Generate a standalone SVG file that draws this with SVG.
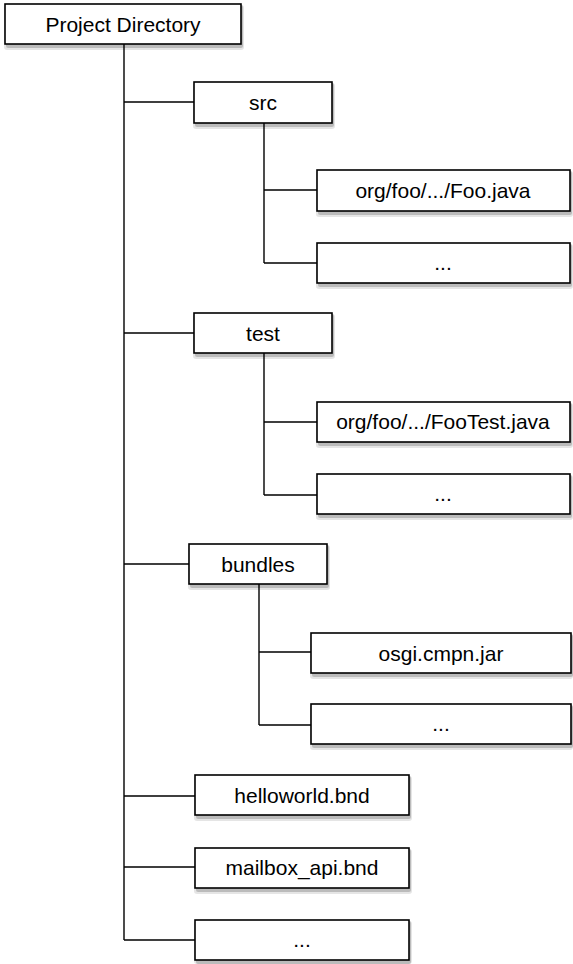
<svg xmlns="http://www.w3.org/2000/svg" width="573" height="964" viewBox="0 0 573 964">
<defs>
<style>
.box{fill:#fff;stroke:#000;stroke-width:1.6}
.s1{fill:#000;opacity:0.10}
.s2{fill:#000;opacity:0.18}
.lbl{font-family:"Liberation Sans",Arial,sans-serif;font-size:21px;fill:#000;text-anchor:middle}
.con{fill:none;stroke:#000;stroke-width:1.4}
</style>
</defs>
<rect width="573" height="964" fill="#fff"/>
<g id="connectors">
<path class="con" d="M124,44 V940 M124,102 H194 M124,333 H194 M124,564 H189 M124,796 H195 M124,867 H195 M124,940 H195"/>
<path class="con" d="M264,123 V263 M264,190 H317 M264,263 H317"/>
<path class="con" d="M264,353 V495 M264,422 H317 M264,495 H317"/>
<path class="con" d="M259,584 V725 M259,652 H311 M259,725 H311"/>
</g>
<g id="root"><rect class="s1" x="4" y="5" width="240" height="45" rx="3"/><rect class="s2" x="6" y="5" width="237" height="43" rx="2"/><rect class="box" x="5" y="4" width="236" height="40"/><text class="lbl" x="123" y="31.5">Project Directory</text></g>
<g id="src"><rect class="s1" x="193" y="83" width="142" height="46" rx="3"/><rect class="s2" x="195" y="83" width="139" height="44" rx="2"/><rect class="box" x="194" y="82" width="138" height="41"/><text class="lbl" x="263" y="110">src</text></g>
<g id="foo"><rect class="s1" x="316" y="171" width="257" height="46" rx="3"/><rect class="s2" x="318" y="171" width="254" height="44" rx="2"/><rect class="box" x="317" y="170" width="253" height="41"/><text class="lbl" x="443" y="198">org/foo/.../Foo.java</text></g>
<g id="src-more"><rect class="s1" x="316" y="244" width="257" height="45" rx="3"/><rect class="s2" x="318" y="244" width="254" height="43" rx="2"/><rect class="box" x="317" y="243" width="253" height="40"/><text class="lbl" x="443" y="270">...</text></g>
<g id="test"><rect class="s1" x="193" y="314" width="142" height="45" rx="3"/><rect class="s2" x="195" y="314" width="139" height="43" rx="2"/><rect class="box" x="194" y="313" width="138" height="40"/><text class="lbl" x="263" y="341">test</text></g>
<g id="footest"><rect class="s1" x="316" y="403" width="257" height="45" rx="3"/><rect class="s2" x="318" y="403" width="254" height="43" rx="2"/><rect class="box" x="317" y="402" width="253" height="40"/><text class="lbl" x="443" y="429">org/foo/.../FooTest.java</text></g>
<g id="test-more"><rect class="s1" x="316" y="475" width="257" height="45" rx="3"/><rect class="s2" x="318" y="475" width="254" height="43" rx="2"/><rect class="box" x="317" y="474" width="253" height="40"/><text class="lbl" x="443" y="501">...</text></g>
<g id="bundles"><rect class="s1" x="188" y="545" width="142" height="45" rx="3"/><rect class="s2" x="190" y="545" width="139" height="43" rx="2"/><rect class="box" x="189" y="544" width="138" height="40"/><text class="lbl" x="258" y="571.5">bundles</text></g>
<g id="osgi"><rect class="s1" x="310" y="634" width="263" height="45" rx="3"/><rect class="s2" x="312" y="634" width="261" height="43" rx="2"/><rect class="box" x="311" y="633" width="260" height="40"/><text class="lbl" x="441" y="660.5">osgi.cmpn.jar</text></g>
<g id="bundles-more"><rect class="s1" x="310" y="705" width="263" height="45" rx="3"/><rect class="s2" x="312" y="705" width="261" height="43" rx="2"/><rect class="box" x="311" y="704" width="260" height="40"/><text class="lbl" x="441" y="731">...</text></g>
<g id="helloworld"><rect class="s1" x="194" y="776" width="218" height="45" rx="3"/><rect class="s2" x="196" y="776" width="215" height="43" rx="2"/><rect class="box" x="195" y="775" width="214" height="40"/><text class="lbl" x="302" y="802.5">helloworld.bnd</text></g>
<g id="mailbox"><rect class="s1" x="194" y="849" width="218" height="45" rx="3"/><rect class="s2" x="196" y="849" width="215" height="43" rx="2"/><rect class="box" x="195" y="848" width="214" height="40"/><text class="lbl" x="302" y="875">mailbox_api.bnd</text></g>
<g id="root-more"><rect class="s1" x="194" y="921" width="218" height="43" rx="3"/><rect class="s2" x="196" y="921" width="215" height="43" rx="2"/><rect class="box" x="195" y="920" width="214" height="40"/><text class="lbl" x="302" y="947">...</text></g>
</svg>
